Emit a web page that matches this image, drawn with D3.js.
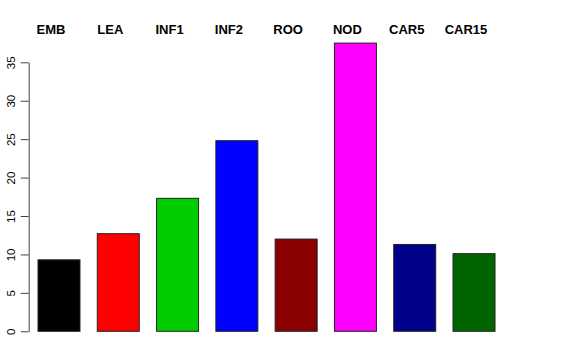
<!DOCTYPE html>
<html>
<head>
<meta charset="utf-8">
<script src="https://cdn.jsdelivr.net/npm/d3@7"></script>
<style>
  body { margin: 0; background: #fff; }
  svg { display: block; font-family: "Liberation Sans", Arial, Helvetica, sans-serif; }
</style>
</head>
<body>
<div id="chart"><svg></svg></div>
<script>
var categories = ["EMB", "LEA", "INF1", "INF2", "ROO", "NOD", "CAR5", "CAR15"];
var values = [9.3, 12.7, 17.3, 24.8, 12.0, 37.5, 11.3, 10.1];
var colors = ["#000000", "#FF0000", "#00CD00", "#0000FF", "#8B0000", "#FF00FF", "#00008B", "#006400"];
var yTicks = [0, 5, 10, 15, 20, 25, 30, 35];

var outerWidth = 576;
var outerHeight = 360;

var data = categories.map(function (c, i) {
  return { name: c, value: values[i], color: colors[i] };
});

var svg = d3.select("#chart").select("svg")
  .attr("width", outerWidth)
  .attr("height", outerHeight);

var xScale = d3.scaleBand()
  .domain(categories)
  .range([38, 495])
  .paddingInner(0.292)
  .paddingOuter(0);

var yScale = d3.scaleLinear()
  .domain([0, 35])
  .range([331.3, 62.3]);

// bars
svg.selectAll(".bar").data(data)
  .enter().append("rect")
  .attr("class", "bar")
  .attr("x", function (d) { return xScale(d.name); })
  .attr("width", xScale.bandwidth())
  .attr("y", function (d) { return yScale(d.value); })
  .attr("height", function (d) { return yScale(0) - yScale(d.value); })
  .attr("fill", function (d) { return d.color; })
  .attr("stroke", "#222")
  .attr("stroke-width", 1);

// category labels on top
svg.selectAll(".cat").data(data)
  .enter().append("text")
  .attr("class", "cat")
  .attr("x", function (d) { return xScale(d.name) + xScale.bandwidth() / 2 - 8; })
  .attr("y", 34)
  .attr("text-anchor", "middle")
  .style("font-size", "13px")
  .style("font-weight", "bold")
  .text(function (d) { return d.name; });

// y axis
var yAxisG = svg.append("g")
  .attr("transform", "translate(28.7,0)")
  .call(d3.axisLeft(yScale).tickValues(yTicks).tickSize(8).tickSizeOuter(0));

yAxisG.selectAll("path, line").attr("stroke", "#444");
yAxisG.selectAll("text")
  .style("font-size", "11.5px")
  .style("font-family", "'Liberation Sans', Arial, sans-serif")
  .attr("fill", "#000")
  .attr("text-anchor", "middle")
  .attr("x", null)
  .attr("dy", null)
  .attr("transform", "translate(-14,0) rotate(-90)")
  .attr("y", 0);
</script>
</body>
</html>
